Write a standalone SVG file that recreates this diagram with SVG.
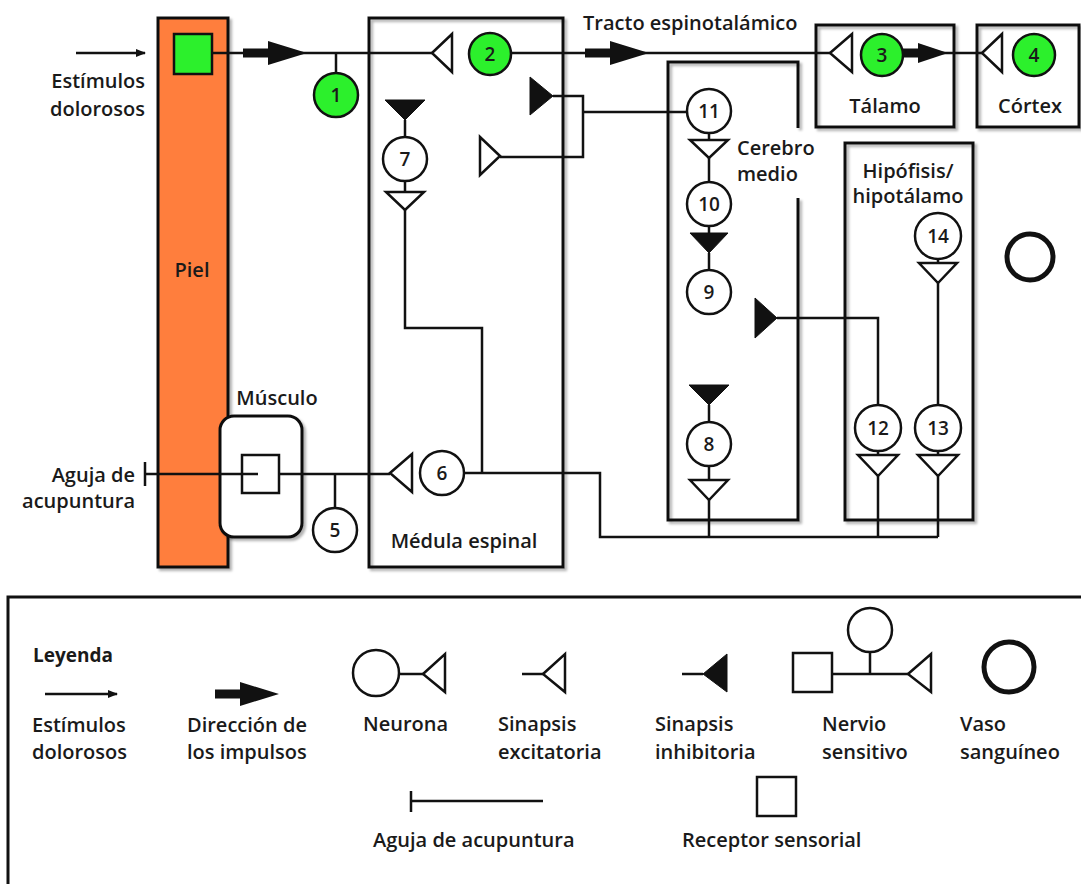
<svg xmlns="http://www.w3.org/2000/svg" width="1081" height="884" viewBox="0 0 1081 884">
<defs>
<style>
.box{fill:none;stroke:#111;stroke-width:3}
.w{fill:none;stroke:#111;stroke-width:2.5}
.c{fill:#fff;stroke:#111;stroke-width:2.5}
.g{fill:#2cf02c;stroke:#111;stroke-width:2.5}
.ex{fill:#fff;stroke:#111;stroke-width:2.5;stroke-linejoin:miter}
.inh{fill:#111;stroke:#111;stroke-width:1}
.ves{fill:none;stroke:#111;stroke-width:5}
text{font-family:"Open Sans","DejaVu Sans",sans-serif;font-weight:600;font-size:20px;fill:#1a1a1a}
.n{font-size:19px;text-anchor:middle}
.m{text-anchor:middle}
.e{text-anchor:end}
</style>
<filter id="sh" x="-5%" y="-5%" width="115%" height="115%">
<feDropShadow dx="2.5" dy="2.5" stdDeviation="1" flood-color="#000" flood-opacity="0.3"/>
</filter>
<marker id="ah" markerWidth="10" markerHeight="8" refX="9" refY="4" orient="auto" markerUnits="userSpaceOnUse">
<path d="M0,0 L10,4 L0,8 Z" fill="#111"/>
</marker>
<path id="thick" d="M0,-4.5 L25,-4.5 L25,-12 L64,0 L25,12 L25,4.5 L0,4.5 Z" fill="#111"/>
<path id="thickS" d="M0,-4.5 L15,-4.5 L15,-10 L45,0 L15,10 L15,4.5 L0,4.5 Z" fill="#111"/>
</defs>
<rect width="1081" height="884" fill="#fff"/>

<g id="piel">
<rect x="158" y="18" width="70" height="549" fill="#ff7e3e" stroke="#111" stroke-width="3" filter="url(#sh)"/>
<rect x="174" y="34" width="38" height="40" class="g"/>
<text x="192" y="277" class="m">Piel</text>
</g>

<g id="estimulos">
<line x1="76" y1="53" x2="145" y2="53" stroke="#111" stroke-width="2.5" marker-end="url(#ah)"/>
<text x="145" y="88" class="e">Estímulos</text>
<text x="145" y="116" class="e">dolorosos</text>
</g>

<g id="medula">
<rect x="369" y="18" width="194" height="549" class="box" filter="url(#sh)"/>
<text x="464" y="548" class="m">Médula espinal</text>
</g>

<g id="musculo">
<rect x="220" y="416" width="82" height="121" rx="14" fill="#fff" stroke="#111" stroke-width="3" filter="url(#sh)"/>
<rect x="242" y="455" width="37" height="38" class="c"/>
<text x="277" y="405" class="m">Músculo</text>
</g>

<g id="cerebro-medio">
<path d="M798,128 V62 H668 V520 H798 V198" class="box" filter="url(#sh)"/>
<text x="737" y="155">Cerebro</text>
<text x="737" y="181">medio</text>
</g>

<g id="talamo">
<rect x="816" y="25" width="138" height="102" class="box" filter="url(#sh)"/>
<text x="885" y="113" class="m">Tálamo</text>
</g>

<g id="cortex">
<rect x="977" y="25" width="102" height="102" class="box" filter="url(#sh)"/>
<text x="1030" y="113" class="m">Córtex</text>
</g>

<g id="hipofisis">
<rect x="845" y="143" width="128" height="377" class="box" filter="url(#sh)"/>
<text x="908" y="178" class="m">Hipófisis/</text>
<text x="908" y="203" class="m">hipotálamo</text>
</g>

<g id="aguja">
<text x="135" y="482" class="e">Aguja de</text>
<text x="135" y="508" class="e">acupuntura</text>
</g>

<g id="connectors">
<path class="w" d="M212,53 H432"/>
<path class="w" d="M512,53 H830"/>
<path class="w" d="M903,53 H982"/>
<path class="w" d="M336,53 V73"/>
<path class="w" d="M145,462 V486 M145,474 H258"/>
<path class="w" d="M279,474 H390"/>
<path class="w" d="M335,474 V508"/>
<path class="w" d="M553,96 H583 V157 H500 M583,112 H687"/>
<path class="w" d="M709,133 V140 M709,158 V182 M709,226 V233 M709,253 V270"/>
<path class="w" d="M709,405 V422 M709,466 V480 M709,500 V537"/>
<path class="w" d="M777,318 H878 V405"/>
<path class="w" d="M938,259 V263 M938,283 V405"/>
<path class="w" d="M878,451 V455 M938,451 V455 M878,476 V537 M938,476 V537"/>
<path class="w" d="M464,473 H600 V537 H938"/>
<path class="w" d="M482,473 V328 H405 V210"/>
<path class="w" d="M405,120 V137 M405,181 V192"/>
<use href="#thick" x="243" y="53"/>
<use href="#thick" x="585" y="53"/>
<use href="#thickS" x="903" y="53"/>
<text x="583" y="30">Tracto espinotalámico</text>
</g>

<g id="synapses">
<polygon class="ex" points="432,53 452,34 452,72"/>
<polygon class="ex" points="830,53 852,34 852,72"/>
<polygon class="ex" points="982,53 1002,34 1002,72"/>
<polygon class="ex" points="390,473 412,454 412,492"/>
<polygon class="ex" points="500,156 480,137 480,175"/>
<polygon class="inh" points="553,96 530,77 530,115"/>
<polygon class="inh" points="777,318 755,298 755,338"/>
<polygon class="inh" points="385,100 425,100 405,120"/>
<polygon class="ex" points="386,192 424,192 405,210"/>
<polygon class="ex" points="690,140 728,140 709,158"/>
<polygon class="inh" points="690,233 728,233 709,253"/>
<polygon class="inh" points="689,385 729,385 709,405"/>
<polygon class="ex" points="690,480 728,480 709,500"/>
<polygon class="ex" points="919,263 957,263 938,283"/>
<polygon class="ex" points="858,455 898,455 878,476"/>
<polygon class="ex" points="918,455 958,455 938,476"/>
</g>

<g id="n1"><circle cx="336" cy="95" r="22" class="g"/><text x="336" y="102" class="n">1</text></g>
<g id="n2"><circle cx="490" cy="54" r="21" class="g"/><text x="490" y="61" class="n">2</text></g>
<g id="n3"><circle cx="882" cy="55" r="21" class="g"/><text x="882" y="62" class="n">3</text></g>
<g id="n4"><circle cx="1034" cy="55" r="21" class="g"/><text x="1034" y="62" class="n">4</text></g>
<g id="n5"><circle cx="335" cy="530" r="22" class="c"/><text x="335" y="537" class="n">5</text></g>
<g id="n6"><circle cx="442" cy="473" r="22" class="c"/><text x="442" y="480" class="n">6</text></g>
<g id="n7"><circle cx="405" cy="159" r="22" class="c"/><text x="405" y="166" class="n">7</text></g>
<g id="n8"><circle cx="709" cy="444" r="22" class="c"/><text x="709" y="451" class="n">8</text></g>
<g id="n9"><circle cx="709" cy="292" r="22" class="c"/><text x="709" y="299" class="n">9</text></g>
<g id="n10"><circle cx="709" cy="204" r="22" class="c"/><text x="709" y="211" class="n">10</text></g>
<g id="n11"><circle cx="709" cy="111" r="22" class="c"/><text x="709" y="118" class="n">11</text></g>
<g id="n12"><circle cx="878" cy="428" r="23" class="c"/><text x="878" y="435" class="n">12</text></g>
<g id="n13"><circle cx="938" cy="428" r="23" class="c"/><text x="938" y="435" class="n">13</text></g>
<g id="n14"><circle cx="938" cy="236" r="23" class="c"/><text x="938" y="243" class="n">14</text></g>
<g id="vaso"><circle cx="1030" cy="257" r="23" class="ves"/></g>

<g id="leyenda">
<rect x="8" y="597" width="1090" height="320" class="box"/>
<text x="33" y="662" style="font-weight:700;font-size:19px">Leyenda</text>
<line x1="45" y1="694" x2="117" y2="694" stroke="#111" stroke-width="2.5" marker-end="url(#ah)"/>
<text x="32" y="732">Estímulos</text>
<text x="32" y="759">dolorosos</text>
<use href="#thick" x="215" y="694"/>
<text x="187" y="732">Dirección de</text>
<text x="187" y="759">los impulsos</text>
<circle cx="376" cy="673" r="23" class="c"/>
<path class="w" d="M399,674 H423"/>
<polygon class="ex" points="423,674 445,654 445,692"/>
<text x="363" y="731">Neurona</text>
<path class="w" d="M522,674 H543"/>
<polygon class="ex" points="543,674 565,654 565,692"/>
<text x="498" y="731">Sinapsis</text>
<text x="498" y="759">excitatoria</text>
<path class="w" d="M682,674 H703"/>
<polygon class="inh" points="703,674 727,654 727,692"/>
<text x="655" y="731">Sinapsis</text>
<text x="655" y="759">inhibitoria</text>
<rect x="793" y="653" width="39" height="39" class="c"/>
<path class="w" d="M832,674 H908 M870,652 V674"/>
<polygon class="ex" points="908,674 931,654 931,692"/>
<circle cx="870" cy="630" r="22" class="c"/>
<text x="822" y="731">Nervio</text>
<text x="822" y="759">sensitivo</text>
<circle cx="1009" cy="667" r="25" class="ves"/>
<text x="960" y="731">Vaso</text>
<text x="960" y="759">sanguíneo</text>
<path class="w" d="M411,791 V812 M411,801 H543"/>
<text x="373" y="847">Aguja de acupuntura</text>
<rect x="757" y="777" width="39" height="39" class="c"/>
<text x="682" y="847">Receptor sensorial</text>
</g>
</svg>
